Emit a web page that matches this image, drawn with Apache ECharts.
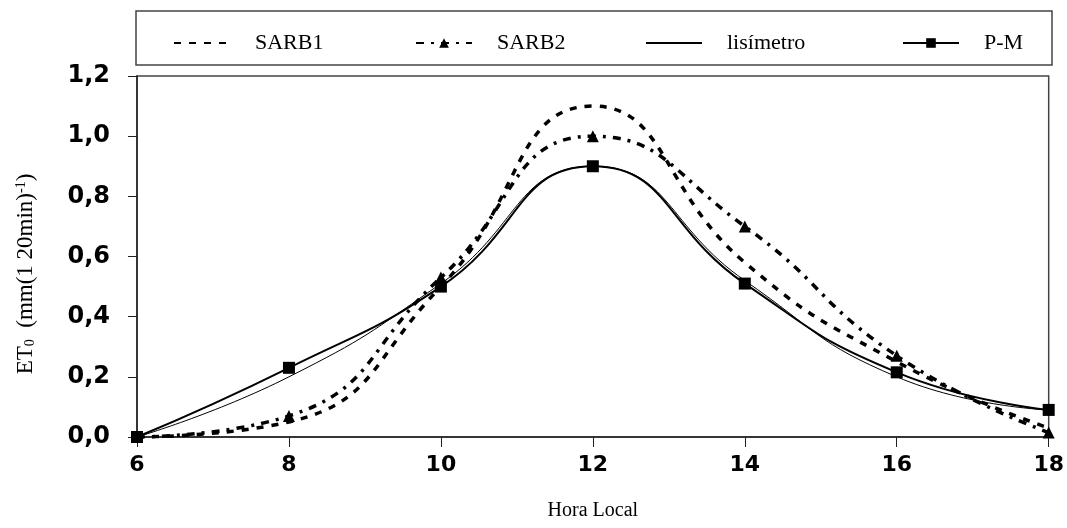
<!DOCTYPE html>
<html>
<head>
<meta charset="utf-8">
<script src="https://cdn.jsdelivr.net/npm/echarts@6/dist/echarts.min.js"></script>
<style>
  html, body { margin: 0; padding: 0; background: #fff; }
  #chart { width: 1067px; height: 528px; }
</style>
</head>
<body>
<div id="chart"></div>
<script>
// hora local (h) e ET0 em mm(120min)^-1
var hours = [6, 8, 10, 12, 14, 16, 18];
var sarb1 = [0, 0.05, 0.5, 1.1, 0.58, 0.25, 0.03];
var sarb2 = [0, 0.07, 0.53, 1.0, 0.70, 0.27, 0.015];
var lisimetro = [0, 0.2, 0.51, 0.9, 0.52, 0.2, 0.09];
var pm = [0, 0.23, 0.5, 0.9, 0.51, 0.215, 0.09];
var names = ['SARB1', 'SARB2', 'lisímetro', 'P-M'];

function pairs(vals) {
    return hours.map(function (h, i) { return [h, vals[i]]; });
}

var serif = '"Liberation Serif", "Times New Roman", serif';
var boldSans = '"DejaVu Sans", sans-serif';

var myChart = echarts.init(document.getElementById('chart'));

function legendAt(name, left, noMark) {
    var lg = {
        data: [name], left: left, top: 27, itemWidth: 56, itemHeight: 12,
        selectedMode: false,
        textStyle: {fontFamily: serif, fontSize: 22, color: '#000', padding: [0, 0, 0, 20]}
    };
    if (noMark) lg.itemStyle = {opacity: 0};
    return lg;
}

var option = {
    backgroundColor: '#fff',
    animation: false,
    legend: [
        legendAt(names[0], 168, true),
        legendAt(names[1], 410),
        legendAt(names[2], 640, true),
        legendAt(names[3], 897)
    ],
    graphic: [
        {type: 'rect', shape: {x: 136, y: 11, width: 916, height: 54},
            style: {fill: 'none', stroke: '#444', lineWidth: 1.5}, z: -1},
        {type: 'text', x: 26, y: 274, rotation: Math.PI / 2,
            style: {
                text: '{a|ET}{s|0}{a|  (mm(1 20min)}{p|-1}{a|)}',
                align: 'center', verticalAlign: 'middle',
                rich: {
                    a: {fontFamily: serif, fontSize: 23, color: '#000'},
                    s: {fontFamily: serif, fontSize: 14, color: '#000', padding: [9, 0, 0, 0]},
                    p: {fontFamily: serif, fontSize: 14, color: '#000', padding: [0, 0, 9, 0]}
                }
            }}
    ],
    grid: {left: 137, right: 17, top: 76, bottom: 91, show: true, borderColor: '#444', borderWidth: 1.5},
    xAxis: {
        type: 'value', min: 6, max: 18, interval: 2,
        name: 'Hora Local', nameLocation: 'middle', nameGap: 64,
        nameTextStyle: {fontFamily: serif, fontSize: 20, color: '#000'},
        axisLine: {lineStyle: {color: '#222', width: 1.5}},
        axisTick: {length: 10, lineStyle: {color: '#222'}},
        axisLabel: {fontFamily: boldSans, fontWeight: 'bold', fontSize: 22, color: '#000', margin: 17},
        splitLine: {show: false}
    },
    yAxis: {
        type: 'value', min: 0, max: 1.2, interval: 0.2,
        axisLine: {show: true, lineStyle: {color: '#222', width: 1.5}},
        axisTick: {show: true, length: 9, lineStyle: {color: '#222'}},
        axisLabel: {
            fontFamily: boldSans, fontWeight: 'bold', fontSize: 24, color: '#000', margin: 27,
            formatter: function (v) { return v.toFixed(1).replace('.', ','); }
        },
        splitLine: {show: false}
    },
    series: [
        {
            name: names[0], type: 'line', smooth: true, data: pairs(sarb1),
            symbol: 'none', itemStyle: {color: '#000'},
            lineStyle: {color: '#000', width: 3.5, type: [7, 8]}
        },
        {
            name: names[1], type: 'line', smooth: true, data: pairs(sarb2),
            symbol: 'triangle', symbolSize: 12, itemStyle: {color: '#000'},
            lineStyle: {color: '#000', width: 3.5, type: [8, 7, 3, 7]}
        },
        {
            name: names[2], type: 'line', smooth: true, data: pairs(lisimetro),
            symbol: 'none', itemStyle: {color: '#000'},
            lineStyle: {color: '#000', width: 1}
        },
        {
            name: names[3], type: 'line', smooth: true, data: pairs(pm),
            symbol: 'rect', symbolSize: 12, itemStyle: {color: '#000'},
            lineStyle: {color: '#000', width: 2}
        }
    ]
};
if (option && typeof option === "object") {
    myChart.setOption(option, true);
}
</script>
</body>
</html>
